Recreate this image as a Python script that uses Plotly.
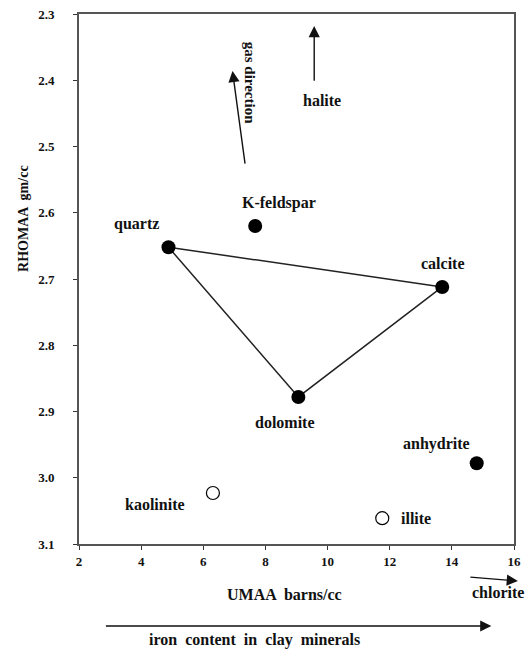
import plotly.graph_objects as go

# ---- data ----
minerals_filled = ["quartz", "K-feldspar", "calcite", "dolomite", "anhydrite"]
umaa_filled = [4.88, 7.67, 13.69, 9.06, 14.8]
rhomaa_filled = [2.652, 2.62, 2.712, 2.878, 2.978]

minerals_open = ["kaolinite", "illite"]
umaa_open = [6.31, 11.76]
rhomaa_open = [3.023, 3.061]

triangle_order = ["quartz", "calcite", "dolomite", "quartz"]

label_names = ["quartz", "K-feldspar", "calcite", "dolomite", "anhydrite",
               "kaolinite", "illite", "halite"]
label_x = [3.84, 8.43, 13.72, 8.62, 13.5, 4.44, 12.86, 9.82]
label_y = [2.617, 2.585, 2.677, 2.917, 2.949, 3.04, 3.062, 2.43]

# in-plot arrows (data units): tail -> tip
halite_arrow = {"x0": 9.57, "y0": 2.403, "x1": 9.57, "y1": 2.318}
gas_arrow = {"x0": 7.35, "y0": 2.528, "x1": 6.94, "y1": 2.386}
gas_label = {"x": 7.51, "y": 2.404, "text": "gas direction"}

x_ticks = [2, 4, 6, 8, 10, 12, 14, 16]
y_ticks = [2.3, 2.4, 2.5, 2.6, 2.7, 2.8, 2.9, 3.0, 3.1]
y_tick_text = ["2.3", "2.4", "2.5", "2.6", "2.7", "2.8", "2.9", "3.0", "3.1"]

x_title = "UMAA  barns/cc"
y_title = "RHOMAA  gm/cc"

FONT = "Liberation Serif"
INK = "#111111"

lookup = dict(zip(minerals_filled, zip(umaa_filled, rhomaa_filled)))
tri_x = [lookup[m][0] for m in triangle_order]
tri_y = [lookup[m][1] for m in triangle_order]

fig = go.Figure()
fig.add_trace(go.Scatter(x=tri_x, y=tri_y, mode="lines",
                         line=dict(color="#222", width=1.5),
                         hoverinfo="skip", showlegend=False))
fig.add_trace(go.Scatter(x=umaa_filled, y=rhomaa_filled, mode="markers",
                         marker=dict(size=14, color="black"),
                         text=minerals_filled, showlegend=False))
fig.add_trace(go.Scatter(x=umaa_open, y=rhomaa_open, mode="markers",
                         marker=dict(size=13, color="white",
                                     line=dict(color="black", width=1.2)),
                         text=minerals_open, showlegend=False))

annotations = []
for n, x, y in zip(label_names, label_x, label_y):
    annotations.append(dict(x=x, y=y, xref="x", yref="y", text="<b>%s</b>" % n,
                            showarrow=False, xanchor="center", yanchor="middle",
                            font=dict(family=FONT, size=16, color=INK)))

for a in (halite_arrow, gas_arrow):
    annotations.append(dict(x=a["x1"], y=a["y1"], ax=a["x0"], ay=a["y0"],
                            xref="x", yref="y", axref="x", ayref="y",
                            text="", showarrow=True, arrowhead=2,
                            arrowsize=1.6, arrowwidth=1.4, arrowcolor=INK))

annotations.append(dict(x=gas_label["x"], y=gas_label["y"], xref="x", yref="y",
                        text="<b>%s</b>" % gas_label["text"], textangle=90,
                        showarrow=False, xanchor="center", yanchor="middle",
                        font=dict(family=FONT, size=15, color=INK)))

# axis titles as annotations (paper units)
annotations.append(dict(x=0.473, y=-0.096, xref="paper", yref="paper",
                        text="<b>%s</b>" % x_title, showarrow=False,
                        xanchor="center", yanchor="middle",
                        font=dict(family=FONT, size=16, color=INK)))
annotations.append(dict(x=-0.129, y=0.615, xref="paper", yref="paper",
                        text="<b>%s</b>" % y_title, showarrow=False,
                        textangle=-90, xanchor="center", yanchor="middle",
                        font=dict(family=FONT, size=14, color=INK)))

# arrows below the axes (paper units with pixel offsets)
annotations.append(dict(x=1.009, y=-0.0698, xref="paper", yref="paper",
                        ax=-49, ay=-4, text="", showarrow=True, arrowhead=2,
                        arrowsize=1.6, arrowwidth=1.4, arrowcolor=INK))
annotations.append(dict(x=0.963, y=-0.092, xref="paper", yref="paper",
                        text="<b>chlorite</b>", showarrow=False,
                        xanchor="center", yanchor="middle",
                        font=dict(family=FONT, size=16, color=INK)))
annotations.append(dict(x=0.948, y=-0.1547, xref="paper", yref="paper",
                        ax=-387, ay=0, text="", showarrow=True, arrowhead=2,
                        arrowsize=1.6, arrowwidth=1.4, arrowcolor=INK))
annotations.append(dict(x=0.403, y=-0.181, xref="paper", yref="paper",
                        text="<b>iron  content  in  clay  minerals</b>",
                        showarrow=False, xanchor="center", yanchor="middle",
                        font=dict(family=FONT, size=16, color=INK)))

fig.update_layout(
    width=527, height=651,
    margin=dict(l=79, r=6, t=14, b=107),
    paper_bgcolor="white", plot_bgcolor="white",
    annotations=annotations,
    font=dict(family=FONT, color=INK),
)
fig.update_xaxes(range=[2, 16], tickvals=x_ticks,
                 ticktext=["<b>%d</b>" % v for v in x_ticks],
                 tickfont=dict(family=FONT, size=13, color=INK),
                 ticks="outside", ticklen=4, tickcolor="#333",
                 showline=True, linecolor="#555", linewidth=1.8, mirror=True,
                 showgrid=False, zeroline=False)
fig.update_yaxes(range=[3.1, 2.3], tickvals=y_ticks,
                 ticktext=["<b>%s</b>" % t for t in y_tick_text],
                 tickfont=dict(family=FONT, size=13, color=INK),
                 ticks="outside", ticklen=4, tickcolor="#333",
                 ticklabelstandoff=16,
                 showline=True, linecolor="#555", linewidth=1.8, mirror=True,
                 showgrid=False, zeroline=False)

fig.write_html("out.html")
